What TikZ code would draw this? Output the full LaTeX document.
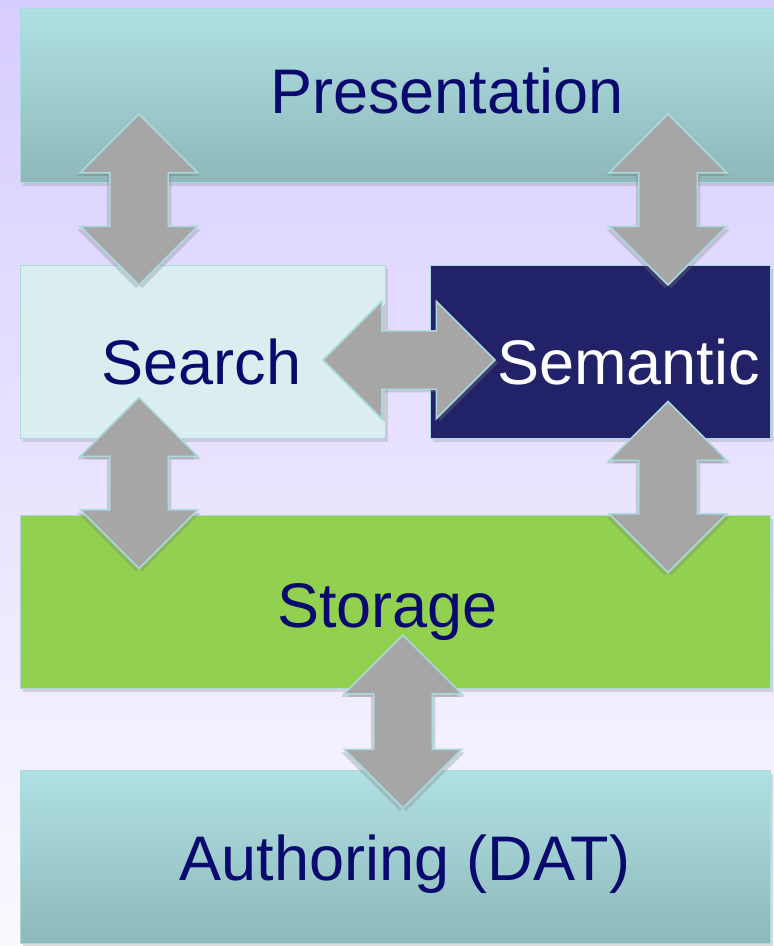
\documentclass[tikz,border=0pt]{standalone}
\usepackage{fontspec}
\setmainfont{Liberation Sans}
\usetikzlibrary{shapes.arrows,shadows}

\definecolor{bgtop}{RGB}{216,205,255}
\definecolor{bgbot}{RGB}{250,249,255}
\definecolor{tealtop}{RGB}{176,224,228}
\definecolor{tealbot}{RGB}{142,184,186}
\definecolor{searchfill}{RGB}{218,237,239}
\definecolor{semfill}{RGB}{34,34,104}
\definecolor{storfill}{RGB}{146,208,80}
\definecolor{edgeteal}{RGB}{170,218,222}
\definecolor{arrowgray}{RGB}{166,166,166}
\definecolor{txtnavy}{RGB}{10,10,110}

\tikzset{
  layer/.style={draw=edgeteal, line width=1.2pt, anchor=north west, inner sep=0pt,
    drop shadow={shadow xshift=2pt, shadow yshift=-3pt, opacity=0.25}},
  lbl/.style={font=\fontsize{63}{70}\selectfont, text=txtnavy, anchor=base, inner sep=0pt},
  dblarrow/.style={double arrow, fill=arrowgray, draw=edgeteal, line width=1.5pt,
    double arrow head extend=29.5pt, minimum height=171pt, minimum width=116pt,
    inner xsep=0pt, inner ysep=28.5pt,
    drop shadow={shadow xshift=3pt, shadow yshift=-3pt, opacity=0.3}},
  % vertical ones: shadow shift is given in the rotated frame
  dblarrowv/.style={dblarrow, rotate=90,
    drop shadow={shadow xshift=-3pt, shadow yshift=-3pt, opacity=0.3}},
}

\begin{document}
\begin{tikzpicture}[x=1pt,y=-1pt]
  \shade[use as bounding box, top color=bgtop, bottom color=bgbot] (0,0) rectangle (774,946);

  % layers
  \node[layer, top color=tealtop, bottom color=tealbot,
        minimum width=754pt, minimum height=174pt] (pres) at (20,8) {};
  \node[layer, fill=searchfill, minimum width=365pt, minimum height=173pt] (search) at (20,265) {};
  \node[layer, fill=semfill, minimum width=340pt, minimum height=173pt] (sem) at (430,265) {};
  \node[layer, fill=storfill, minimum width=750pt, minimum height=173pt] (stor) at (20,515) {};
  \node[layer, top color=tealtop, bottom color=tealbot,
        minimum width=750pt, minimum height=173pt] (auth) at (20,770) {};

  % arrows between layers
  \node[dblarrowv] (presSearch) at (139,199.5) {};
  \node[dblarrowv] (presSem) at (668,199.5) {};
  \node[dblarrowv] (searchStor) at (139,483) {};
  \node[dblarrowv] (semStor) at (668,487) {};
  \node[dblarrowv, minimum height=173pt] (storAuth) at (403,721.5) {};
  \node[dblarrow, minimum height=172pt] (searchSem) at (409,360) {};

  % labels
  \node[lbl] (presT) at (447,113) {Presentation};
  \node[lbl] (searchT) at (201.5,384) {Search};
  \node[lbl, text=white] (semT) at (628.5,384) {Semantic};
  \node[lbl] (storT) at (387.5,627) {Storage};
  \node[lbl] (authT) at (405,880) {Authoring (DAT)};
\end{tikzpicture}
\end{document}
